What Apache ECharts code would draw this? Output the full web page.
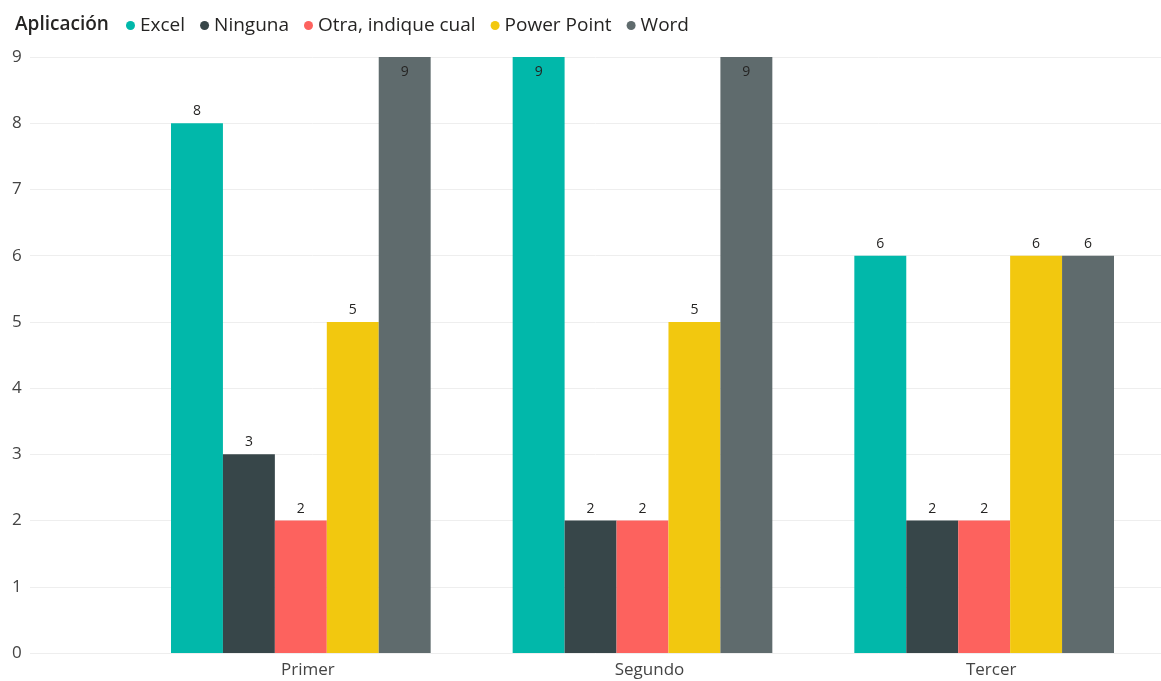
<!DOCTYPE html>
<html><head><meta charset="utf-8">
<script src="https://cdn.jsdelivr.net/npm/echarts@6/dist/echarts.min.js"></script>
<style>html,body{margin:0;padding:0;background:#fff}#c{width:1161px;height:681px}</style>
</head><body><div id="c"></div>
<script>
const categories = ['Primer', 'Segundo', 'Tercer'];
const seriesNames = ['Excel', 'Ninguna', 'Otra, indique cual', 'Power Point', 'Word'];
const excel = [8, 9, 6];
const ninguna = [3, 2, 2];
const otra = [2, 2, 2];
const powerPoint = [5, 5, 6];
const word = [9, 9, 6];
const yTicks = [0, 1, 2, 3, 4, 5, 6, 7, 8, 9];
const colors = ['#01B8AA', '#374649', '#FD625E', '#F2C80F', '#5F6B6D'];
const values = [excel, ninguna, otra, powerPoint, word];
const yMax = yTicks[yTicks.length - 1];
const FONT = '"Segoe UI", "Open Sans", "Noto Sans", sans-serif';

const chart = echarts.init(document.getElementById('c'), null, {renderer: 'canvas'});
chart.setOption({
  animation: false,
  color: colors,
  title: {
    text: 'Aplicación', left: 10, top: 10,
    textStyle: {fontFamily: FONT, fontSize: 19, fontWeight: 600, color: '#252423'}
  },
  legend: {
    left: 121, top: 11, icon: 'circle', itemWidth: 9, itemHeight: 9, itemGap: 15,
    data: seriesNames,
    textStyle: {fontFamily: FONT, fontSize: 19, color: '#252423'}
  },
  grid: [
    {left: 30, right: 0, top: 57, bottom: 28},
    {left: 130, right: 6, top: 57, bottom: 28}
  ],
  xAxis: [
    {gridIndex: 0, type: 'value', show: false, min: 0, max: 1},
    {gridIndex: 1, type: 'category', data: categories, boundaryGap: true,
     axisLine: {show: false}, axisTick: {show: false},
     axisLabel: {fontFamily: FONT, fontSize: 17, color: '#444', margin: 9, padding: [0, 0, 0, 14]}}
  ],
  yAxis: [
    {gridIndex: 0, type: 'value', min: 0, max: yMax, interval: 1,
     axisLine: {show: false}, axisTick: {show: false},
     splitLine: {lineStyle: {color: '#eeeeee', width: 1}},
     axisLabel: {fontFamily: FONT, fontSize: 17, color: '#444', margin: 18, align: 'left'}},
    {gridIndex: 1, type: 'value', min: 0, max: yMax, interval: 1, show: false,
     splitLine: {show: false}}
  ],
  series: seriesNames.map((name, i) => ({
    name: name, type: 'bar', xAxisIndex: 1, yAxisIndex: 1,
    data: values[i].map(v => ({
      value: v,
      label: v >= yMax ? {position: 'insideTop', distance: 8} : {position: 'top', distance: 5}
    })),
    barGap: '0%', barCategoryGap: '24%',
    itemStyle: {color: colors[i]},
    label: {show: true, fontFamily: FONT, fontSize: 14, color: '#252423'}
  }))
});
</script></body></html>
